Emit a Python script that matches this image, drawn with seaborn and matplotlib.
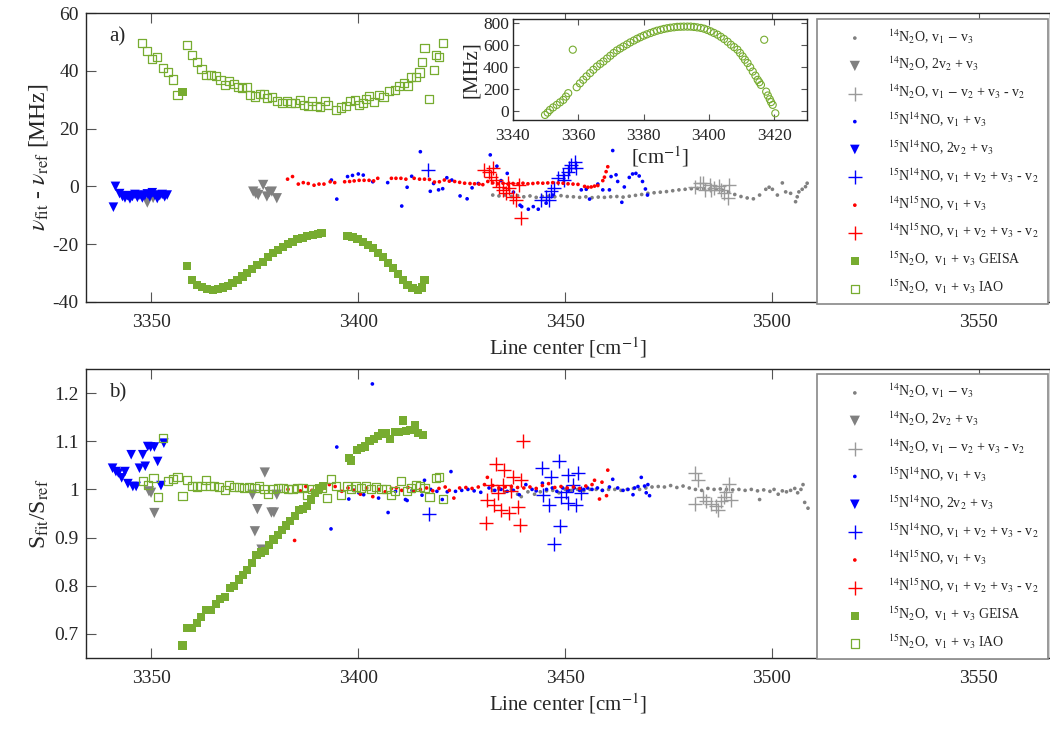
import numpy as np
import matplotlib
matplotlib.use("Agg")
import matplotlib.pyplot as plt
from matplotlib.ticker import FormatStrFormatter
import seaborn as sns

# ---------------- data (x = line center [cm-1], y = value) ----------------
# panel a) : nu_fit - nu_ref [MHz]
a_14n2o_dot = np.array([
    (3432.5, -3.0), (3434.0, -3.3), (3435.5, -3.0), (3437.0, -3.5), (3438.5, -3.2), (3440.0, -3.6),
    (3441.5, -3.3), (3443.0, -3.8), (3444.5, -3.5), (3446.0, -3.4), (3447.5, -3.6), (3449.0, -3.2),
    (3450.5, -3.5), (3452.0, -3.6), (3453.5, -3.8), (3455.0, -3.6), (3456.5, -3.9), (3458.0, -3.7),
    (3459.5, -3.8), (3461.0, -3.6), (3462.5, -3.5), (3464.0, -3.7), (3465.5, -3.4), (3467.0, -3.1),
    (3468.5, -2.8), (3470.0, -2.4), (3471.5, -2.2), (3473.0, -2.0), (3474.5, -1.8), (3476.0, -1.5),
    (3477.5, -1.2), (3479.0, -1.0), (3480.5, -0.8), (3482.0, -0.7), (3483.5, -0.8), (3485.0, -0.9),
    (3486.5, -1.0), (3488.0, -1.3), (3489.5, -2.0), (3491.0, -2.8), (3492.5, -3.5), (3494.0, -4.0),
    (3495.5, -4.3), (3497.0, -3.0), (3498.5, -1.0), (3499.3, -0.3), (3500.1, -1.0), (3501.3, -3.0),
    (3502.5, 1.2), (3503.3, -1.9), (3504.5, -2.4), (3505.7, -5.3), (3506.1, -3.6), (3506.5, -1.9),
    (3507.3, -1.0), (3508.1, -0.1), (3508.5, 1.1)])
a_14n2o_tri = np.array([
    (3349.0, -5.6), (3350.4, -4.0), (3374.6, -1.8), (3375.2, -2.5), (3375.8, -3.0), (3377.0, 0.5),
    (3377.9, -3.5), (3378.5, -2.0), (3379.1, -1.8), (3380.3, -4.1)])
a_14n2o_plus = np.array([
    (3481.3, -0.3), (3482.5, 1.1), (3483.3, 1.1), (3483.7, -1.2), (3484.9, 0.6), (3485.3, -1.4),
    (3486.1, -0.6), (3487.3, 0.0), (3487.7, -1.2), (3488.5, -2.4), (3489.3, -4.1), (3489.7, 0.6)])
a_15n14no_dot = np.array([
    (3393.5, 2.2), (3394.8, -4.4), (3397.4, 3.4), (3398.6, 3.8), (3400.0, 4.3), (3401.2, 3.9),
    (3403.5, 1.6), (3407.1, 1.3), (3410.5, -6.8), (3411.8, -0.3), (3412.9, 3.5), (3415.0, 12.0),
    (3417.4, -1.7), (3418.2, 1.0), (3419.4, -1.2), (3420.4, -0.8), (3421.4, 3.0), (3422.6, 2.2),
    (3424.6, -3.3), (3426.3, -4.3), (3427.5, -0.5), (3429.0, 1.0), (3431.9, 10.9), (3433.5, 7.0),
    (3434.5, 2.0), (3436.0, 4.5), (3437.5, -2.0), (3439.1, -6.5), (3439.5, -7.0), (3441.1, -7.9),
    (3442.3, -7.0), (3443.5, -7.9), (3445.4, -5.8), (3447.0, -3.0), (3453.9, -1.2), (3455.1, -1.0),
    (3455.9, -4.4), (3457.9, 0.8), (3459.1, -1.2), (3460.7, -1.2), (3461.1, 3.4), (3461.5, 12.4),
    (3462.3, 4.0), (3462.7, 1.7), (3463.7, -5.5), (3464.3, -0.2), (3465.5, 3.1), (3466.3, 4.3),
    (3467.1, 4.5), (3467.9, 3.6), (3468.7, 1.7), (3469.4, -0.9), (3469.9, -3.0)])
a_15n14no_tri = np.array([
    (3340.8, -7.2), (3341.3, 0.0), (3342.3, -2.5), (3343.0, -3.5), (3343.6, -4.0), (3344.2, -3.2),
    (3344.8, -4.3), (3345.4, -3.5), (3346.0, -2.8), (3346.6, -3.8), (3347.2, -3.0), (3347.8, -4.0),
    (3348.4, -3.2), (3349.0, -2.6), (3349.6, -3.6), (3350.2, -2.2), (3350.8, -3.0), (3351.4, -4.2),
    (3352.0, -3.2), (3352.6, -2.8), (3353.2, -3.6), (3353.8, -3.0)])
a_15n14no_plus = np.array([
    (3416.8, 5.7), (3444.2, -4.6), (3445.4, -3.5), (3446.2, -4.6), (3446.6, -1.7), (3447.4, -0.6),
    (3448.2, 2.8), (3449.4, 4.0), (3449.8, 2.3), (3450.7, 5.1), (3451.0, 6.5), (3451.5, 7.4),
    (3452.3, 8.5), (3452.7, 6.2)])
a_14n15no_dot = np.array([
    (3382.9, 2.5), (3384.1, 3.4), (3385.5, 0.8), (3386.7, 1.3), (3387.9, 1.0), (3389.3, 0.4),
    (3390.5, 0.8), (3391.7, 0.8), (3393.2, 1.6), (3394.3, 1.3), (3396.7, 1.6), (3397.9, 1.7),
    (3399.0, 1.9), (3400.2, 2.1), (3401.4, 2.1), (3402.6, 2.1), (3403.7, 1.9), (3404.7, 2.8),
    (3408.0, 2.8), (3409.1, 2.8), (3410.3, 2.8), (3411.5, 2.5), (3413.5, 2.8), (3414.8, 2.5),
    (3416.0, 2.5), (3417.2, 2.4), (3418.4, 1.5), (3419.6, 1.6), (3420.8, 2.2), (3422.0, 1.8),
    (3423.3, 1.7), (3424.5, 1.4), (3425.7, 1.1), (3427.0, 1.0), (3428.1, 0.9), (3429.2, 0.8),
    (3430.1, 0.6), (3431.3, 1.7), (3432.5, 1.2), (3433.7, 0.9), (3435.0, 1.1), (3436.2, 0.8),
    (3437.4, 1.0), (3438.6, 0.9), (3439.8, 1.1), (3441.0, 0.9), (3442.2, 1.0), (3443.4, 1.2),
    (3444.6, 1.1), (3445.8, 1.2), (3447.0, 1.3), (3448.3, 1.2), (3449.5, 1.1), (3450.7, 0.9),
    (3451.9, 0.8), (3453.1, 0.7), (3454.7, 0.0), (3455.5, -0.3), (3456.3, -0.2), (3457.1, 0.1),
    (3457.9, 0.3), (3459.1, 2.0), (3459.5, 3.2), (3459.9, 5.1), (3460.3, 6.8)])
a_14n15no_plus = np.array([
    (3430.5, 5.7), (3431.7, 5.1), (3432.1, 3.4), (3432.5, 6.2), (3433.3, 2.3), (3434.1, -0.1),
    (3434.9, -1.2), (3435.7, -2.3), (3436.1, 1.2), (3436.5, -0.6), (3437.3, -3.5), (3438.1, -4.6),
    (3438.9, 0.6), (3439.3, -11.0)])
a_15n2o_geisa = np.array([
    (3357.5, 32.7), (3358.7, -27.5), (3359.9, -32.4), (3361.1, -34.1), (3362.3, -34.9), (3363.5, -35.6),
    (3364.8, -35.8), (3366.0, -35.6), (3367.2, -35.0), (3368.4, -34.5), (3369.6, -33.5), (3370.8, -32.4),
    (3372.0, -31.2), (3373.2, -29.9), (3374.4, -28.5), (3375.6, -27.2), (3376.9, -26.1), (3378.1, -24.5),
    (3379.3, -23.2), (3380.5, -22.0), (3381.7, -20.9), (3382.9, -19.9), (3384.1, -19.1), (3385.3, -18.3),
    (3386.5, -17.8), (3387.7, -17.2), (3389.0, -16.8), (3390.2, -16.5), (3391.1, -16.2),
    (3397.4, -17.2), (3398.6, -17.6), (3399.8, -18.3), (3401.1, -19.2), (3402.3, -20.3), (3403.5, -21.4),
    (3404.7, -22.9), (3405.9, -24.5), (3407.1, -26.4), (3408.3, -28.3), (3409.5, -30.3), (3410.7, -32.4),
    (3411.9, -34.1), (3413.1, -35.3), (3414.4, -35.8), (3415.3, -35.0), (3416.0, -32.4)])
a_15n2o_iao = np.array([
    (3347.8, 49.7), (3349.0, 46.9), (3350.2, 44.0), (3351.4, 44.7), (3352.8, 40.9), (3353.9, 39.7),
    (3355.1, 37.0), (3356.3, 31.6),
    (3358.7, 48.9), (3359.9, 45.4), (3361.1, 43.1), (3362.1, 40.5), (3363.1, 38.5), (3364.3, 38.5),
    (3365.5, 38.2), (3366.7, 36.8), (3367.7, 35.1), (3368.7, 36.5), (3369.9, 35.4), (3370.9, 34.3),
    (3371.9, 33.9), (3373.1, 34.3), (3373.9, 31.6), (3375.1, 31.1), (3376.2, 31.9), (3377.1, 32.0),
    (3377.9, 30.5), (3379.1, 30.8), (3380.3, 29.4), (3381.5, 28.8), (3382.7, 29.7), (3383.7, 28.8),
    (3384.7, 29.0), (3385.9, 30.0), (3386.9, 28.2), (3387.9, 27.9), (3388.9, 29.6), (3389.9, 27.9),
    (3390.7, 27.6), (3391.9, 29.4), (3392.7, 28.2), (3394.7, 26.4), (3395.9, 27.3), (3397.1, 27.9),
    (3397.9, 29.4), (3399.1, 30.0), (3400.1, 28.2), (3401.1, 28.8), (3401.8, 30.1), (3402.6, 31.3),
    (3403.7, 29.3), (3405.1, 31.6), (3406.1, 31.0), (3407.4, 33.0), (3408.8, 33.4), (3409.8, 34.8),
    (3411.0, 35.7), (3412.0, 34.6), (3412.7, 38.0), (3413.9, 38.0), (3414.8, 39.4), (3415.5, 43.2),
    (3416.0, 48.0), (3417.1, 30.2), (3418.2, 40.3), (3418.8, 45.5), (3419.6, 44.9), (3420.4, 49.7)])

# panel b) : S_fit / S_ref
b_14n2o_dot = np.array([
    (3432.5, 0.998), (3434.0, 1.0), (3435.5, 0.995), (3437.0, 1.0), (3438.5, 0.99), (3439.4, 0.985),
    (3441.0, 0.995), (3442.6, 0.99), (3444.0, 0.995), (3445.5, 0.997), (3447.0, 0.998), (3448.5, 0.993),
    (3450.0, 1.0), (3451.5, 0.998), (3453.0, 1.0), (3454.5, 0.997), (3456.0, 1.0), (3457.5, 1.0),
    (3459.0, 0.998), (3460.5, 1.0), (3462.0, 1.0), (3463.5, 0.998), (3465.0, 1.0), (3466.5, 1.002),
    (3468.0, 1.0), (3469.5, 1.003), (3471.0, 1.005), (3472.5, 1.006), (3474.0, 1.005), (3475.5, 1.008),
    (3477.0, 1.004), (3478.5, 1.007), (3480.0, 1.003), (3481.5, 1.0), (3483.0, 0.998), (3484.5, 1.002),
    (3486.0, 1.0), (3487.5, 1.001), (3489.0, 1.0), (3490.5, 0.999), (3492.0, 1.0), (3493.5, 0.998),
    (3495.0, 1.0), (3496.5, 0.997), (3497.0, 0.979), (3498.0, 0.999), (3499.5, 0.996), (3500.5, 1.0),
    (3501.5, 0.99), (3502.5, 0.997), (3503.5, 0.995), (3504.5, 0.998), (3505.5, 1.002), (3506.2, 0.993),
    (3507.0, 1.0), (3507.5, 1.01), (3507.9, 0.973), (3508.7, 0.961)])
b_14n2o_tri = np.array([
    (3349.4, 0.996), (3349.9, 0.993), (3350.7, 0.951), (3374.4, 0.989), (3375.0, 0.913), (3375.6, 0.959),
    (3376.6, 0.875), (3377.4, 1.035), (3379.0, 0.952), (3379.6, 0.952), (3380.3, 0.989)])
b_14n2o_plus = np.array([
    (3481.3, 1.035), (3481.3, 0.970), (3482.1, 1.020), (3483.3, 0.984), (3484.1, 0.975), (3485.3, 0.970),
    (3486.5, 0.965), (3486.9, 0.957), (3487.7, 0.975), (3488.5, 0.984), (3489.0, 0.994), (3489.7, 1.012),
    (3490.1, 0.978)])
b_15n14no_dot = np.array([
    (3393.4, 0.918), (3394.8, 1.088), (3397.7, 0.980), (3398.9, 0.998), (3400.1, 0.993), (3401.3, 0.989),
    (3403.4, 1.219), (3404.9, 0.982), (3407.2, 0.952), (3409.0, 0.996), (3411.4, 0.979), (3411.8, 0.977),
    (3413.0, 0.998), (3415.4, 0.988), (3416.0, 1.019), (3417.5, 1.0), (3419.0, 0.996), (3420.3, 0.979),
    (3421.5, 0.995), (3422.4, 1.037), (3423.5, 0.996), (3425.0, 0.998), (3426.5, 1.0), (3428.0, 0.997),
    (3429.6, 0.994), (3431.6, 1.003), (3433.0, 0.998), (3434.5, 1.0), (3436.0, 0.996), (3437.5, 0.998),
    (3438.9, 0.989), (3440.5, 1.010), (3442.0, 1.0), (3443.0, 0.997), (3444.5, 1.013), (3445.5, 1.0),
    (3446.9, 1.003), (3448.0, 0.996), (3449.4, 1.003), (3450.8, 0.998), (3452.2, 1.003), (3453.5, 0.998),
    (3454.5, 1.0), (3455.4, 1.003), (3456.5, 1.0), (3457.8, 1.003), (3459.0, 0.998), (3460.7, 1.005),
    (3461.5, 1.021), (3462.7, 1.003), (3464.0, 0.998), (3465.2, 1.0), (3466.4, 0.989), (3466.8, 1.003),
    (3467.6, 1.006), (3468.4, 1.025), (3469.2, 1.007), (3469.6, 0.993), (3470.0, 1.010), (3470.4, 0.987)])
b_15n14no_tri = np.array([
    (3340.6, 1.044), (3341.4, 1.037), (3342.0, 1.034), (3342.8, 1.024), (3343.6, 1.037), (3344.3, 1.012),
    (3345.1, 1.072), (3345.5, 1.006), (3346.3, 1.006), (3347.1, 1.044), (3347.9, 1.072), (3348.5, 1.048),
    (3349.1, 1.089), (3349.8, 1.088), (3350.7, 1.088), (3351.5, 1.058), (3352.3, 1.008), (3353.0, 1.096)])
b_15n14no_plus = np.array([
    (3417.2, 0.949), (3444.5, 1.044), (3444.7, 0.989), (3446.1, 0.968), (3446.7, 1.025), (3447.2, 0.887),
    (3448.5, 1.058), (3448.7, 0.925), (3448.9, 0.985), (3450.2, 0.994), (3450.6, 1.030), (3450.6, 0.971),
    (3451.8, 1.010), (3452.6, 0.968), (3453.0, 1.035), (3453.8, 0.993)])
b_14n15no_dot = np.array([
    (3383.0, 1.0), (3384.6, 0.894), (3386.0, 0.997), (3387.3, 1.006), (3388.8, 0.998), (3390.2, 1.004),
    (3391.5, 1.002), (3393.0, 1.01), (3394.4, 1.006), (3396.0, 0.996), (3397.5, 1.003), (3399.0, 0.998),
    (3400.5, 0.99), (3402.0, 1.003), (3403.5, 0.985), (3405.0, 1.0), (3406.5, 0.995), (3408.0, 1.002),
    (3409.2, 1.003), (3410.5, 0.998), (3412.0, 1.004), (3413.5, 0.996), (3415.0, 1.0), (3416.5, 1.003),
    (3418.0, 0.997), (3419.5, 1.002), (3421.0, 1.005), (3422.0, 0.998), (3423.1, 0.982), (3424.5, 1.003),
    (3426.0, 1.004), (3427.5, 1.002), (3429.0, 1.005), (3430.5, 1.01), (3431.2, 1.025), (3432.5, 1.008),
    (3434.0, 1.003), (3435.5, 1.005), (3437.0, 1.006), (3438.5, 1.004), (3440.0, 1.003), (3441.5, 1.005),
    (3443.0, 1.002), (3444.5, 1.008), (3446.0, 1.012), (3447.5, 1.004), (3449.0, 1.006), (3450.5, 1.003),
    (3452.0, 1.005), (3453.5, 1.002), (3455.0, 1.007), (3456.5, 1.01), (3457.1, 1.019), (3458.3, 0.98),
    (3458.9, 1.015), (3460.0, 0.987), (3460.3, 1.04)])
b_14n15no_plus = np.array([
    (3430.8, 0.930), (3431.2, 0.979), (3432.1, 1.010), (3432.9, 0.968), (3433.3, 1.053), (3433.7, 0.993),
    (3434.5, 0.957), (3434.9, 1.010), (3435.3, 1.040), (3436.5, 0.952), (3437.0, 0.996), (3437.4, 1.025),
    (3438.5, 0.963), (3439.2, 0.926), (3439.4, 1.019), (3439.8, 1.101)])
b_15n2o_geisa = np.array([
    (3357.5, 0.676), (3358.7, 0.712), (3359.7, 0.712), (3360.9, 0.723), (3362.0, 0.735), (3363.2, 0.750),
    (3364.3, 0.750), (3365.5, 0.763), (3366.6, 0.773), (3367.7, 0.777), (3368.9, 0.795), (3370.0, 0.800),
    (3371.1, 0.813), (3372.2, 0.823), (3373.2, 0.833), (3374.4, 0.847), (3375.4, 0.863), (3376.5, 0.869),
    (3377.5, 0.872), (3378.5, 0.885), (3379.5, 0.896), (3380.6, 0.906), (3381.5, 0.916), (3382.5, 0.925),
    (3383.5, 0.934), (3384.6, 0.945), (3385.6, 0.958), (3386.6, 0.959), (3387.6, 0.965), (3388.6, 0.979),
    (3389.6, 0.993), (3390.6, 1.003), (3391.4, 1.008),
    (3397.7, 1.065), (3398.3, 1.060), (3399.7, 1.082), (3400.7, 1.086), (3401.7, 1.089), (3402.7, 1.100),
    (3403.7, 1.105), (3404.8, 1.111), (3405.7, 1.116), (3406.7, 1.116), (3407.7, 1.105), (3408.9, 1.120),
    (3409.9, 1.120), (3410.9, 1.143), (3411.5, 1.122), (3412.5, 1.124), (3413.6, 1.134), (3414.5, 1.118),
    (3415.6, 1.113)])
b_15n2o_iao = np.array([
    (3347.9, 1.017), (3349.1, 1.010), (3350.5, 1.024), (3351.6, 0.984), (3352.8, 1.107), (3353.9, 1.017),
    (3355.1, 1.022), (3356.3, 1.026), (3357.5, 0.986), (3358.7, 1.019), (3359.9, 1.008), (3361.1, 1.006),
    (3362.1, 1.008), (3363.1, 1.019), (3364.2, 1.008), (3365.2, 1.008), (3366.4, 1.005), (3367.7, 0.998),
    (3368.8, 1.010), (3370.0, 1.005), (3371.2, 1.005), (3372.4, 1.003), (3373.6, 1.005), (3374.9, 1.003),
    (3376.1, 1.008), (3377.3, 1.001), (3378.1, 0.991), (3379.3, 1.001), (3380.5, 1.003), (3381.7, 1.003),
    (3382.9, 1.001), (3384.1, 1.001), (3385.3, 1.003), (3386.5, 1.003), (3387.7, 0.989), (3388.9, 1.000),
    (3390.1, 1.000), (3391.3, 1.003), (3392.5, 0.982), (3393.4, 1.022), (3394.6, 1.008), (3395.8, 0.988),
    (3397.3, 1.008), (3398.3, 1.000), (3399.5, 1.006), (3400.7, 1.003), (3401.9, 1.008), (3403.1, 1.000),
    (3404.3, 1.005), (3405.6, 1.000), (3406.8, 1.001), (3407.8, 0.988), (3408.8, 0.996), (3410.3, 1.017),
    (3411.8, 0.996), (3412.8, 1.003), (3413.9, 1.010), (3415.0, 1.006), (3416.0, 1.003), (3417.2, 0.985),
    (3418.8, 1.024), (3419.6, 1.026), (3420.4, 0.981)])

# inset : [MHz] vs [cm-1]
inset_iao = np.array([
    (3349.8, -36), (3350.6, -15), (3351.3, 9), (3352.3, 32), (3353.4, 55), (3354.4, 78), (3355.4, 100),
    (3356.2, 130), (3356.9, 161), (3358.3, 555), (3359.5, 215), (3360.5, 250), (3361.5, 282),
    (3362.5, 313), (3363.6, 343), (3364.6, 373), (3365.7, 403), (3366.7, 426), (3367.7, 448),
    (3368.8, 475), (3369.8, 500), (3370.8, 525), (3371.8, 548), (3372.8, 566), (3373.8, 584),
    (3374.9, 603), (3375.9, 621), (3377.0, 638), (3378.0, 654), (3379.0, 668), (3380.0, 682),
    (3381.0, 694), (3382.1, 706), (3383.1, 717), (3384.1, 727), (3385.2, 735), (3386.2, 743),
    (3387.2, 749), (3388.2, 754), (3389.3, 758), (3390.3, 762), (3391.3, 763), (3392.3, 764),
    (3393.4, 764), (3394.4, 764), (3395.4, 761), (3396.4, 757), (3397.5, 752), (3398.5, 745),
    (3399.5, 734), (3400.5, 721), (3401.5, 707), (3402.6, 691), (3403.6, 672), (3404.6, 652),
    (3405.7, 627), (3406.7, 600), (3407.7, 578), (3408.7, 555), (3409.5, 525), (3410.3, 494),
    (3411.0, 464), (3411.8, 434), (3412.6, 396), (3413.4, 357), (3414.2, 320), (3414.9, 282),
    (3415.4, 260), (3415.9, 236), (3416.9, 645), (3417.5, 175), (3418.0, 140), (3418.6, 106),
    (3419.0, 80), (3419.5, 55), (3420.3, -21)])

labels = [
    r"$^{14}$N$_2$O, v$_1$ $-$ v$_3$",
    r"$^{14}$N$_2$O, 2v$_2$ + v$_3$",
    r"$^{14}$N$_2$O, v$_1$ $-$ v$_2$ + v$_3$ - v$_2$",
    r"$^{15}$N$^{14}$NO, v$_1$ + v$_3$",
    r"$^{15}$N$^{14}$NO, 2v$_2$ + v$_3$",
    r"$^{15}$N$^{14}$NO, v$_1$ + v$_2$ + v$_3$ - v$_2$",
    r"$^{14}$N$^{15}$NO, v$_1$ + v$_3$",
    r"$^{14}$N$^{15}$NO, v$_1$ + v$_2$ + v$_3$ - v$_2$",
    r"$^{15}$N$_2$O,  v$_1$ + v$_3$ GEISA",
    r"$^{15}$N$_2$O,  v$_1$ + v$_3$ IAO",
]
x_ticks = [3350, 3400, 3450, 3500, 3550]
a_yticks = [-40, -20, 0, 20, 40, 60]
b_yticks = [0.7, 0.8, 0.9, 1.0, 1.1, 1.2]
inset_xticks = [3340, 3360, 3380, 3400, 3420]
inset_yticks = [0, 200, 400, 600, 800]

# ---------------- styles ----------------
GRAY = "#808080"
LGRAY = "#9a9a9a"
BLUE = "#0000ff"
RED = "#ff0000"
GREEN = "#77ac30"
styles = [
    dict(marker="o", s=7, color=GRAY, edgecolor="none"),
    dict(marker="v", s=55, color=GRAY, edgecolor="none"),
    dict(marker="+", s=90, color=LGRAY, linewidth=1.0),
    dict(marker="o", s=7, color=BLUE, edgecolor="none"),
    dict(marker="v", s=48, color=BLUE, edgecolor="none"),
    dict(marker="+", s=90, color=BLUE, linewidth=1.0),
    dict(marker="o", s=7, color=RED, edgecolor="none"),
    dict(marker="+", s=90, color=RED, linewidth=1.0),
    dict(marker="s", s=34, color=GREEN, edgecolor="none"),
    dict(marker="s", s=34, color=GREEN, facecolor="none", edgecolor=GREEN, linewidth=0.9),
]

sns.set_theme(style="ticks")
plt.rcParams["font.family"] = ["Liberation Serif", "DejaVu Serif"]
plt.rcParams["mathtext.fontset"] = "stix"
plt.rcParams["axes.unicode_minus"] = False

fig = plt.figure(figsize=(10.5, 7.31), dpi=100)
axA = fig.add_axes([0.0816, 0.5869, 0.9184, 0.3953])
axB = fig.add_axes([0.0816, 0.0999, 0.9184, 0.3953])

setsA = [a_14n2o_dot, a_14n2o_tri, a_14n2o_plus, a_15n14no_dot, a_15n14no_tri, a_15n14no_plus,
         a_14n15no_dot, a_14n15no_plus, a_15n2o_geisa, a_15n2o_iao]
setsB = [b_14n2o_dot, b_14n2o_tri, b_14n2o_plus, b_15n14no_dot, b_15n14no_tri, b_15n14no_plus,
         b_14n15no_dot, b_14n15no_plus, b_15n2o_geisa, b_15n2o_iao]

for ax, sets in ((axA, setsA), (axB, setsB)):
    for arr, st, lab in zip(sets, styles, labels):
        sns.scatterplot(x=arr[:, 0], y=arr[:, 1], ax=ax, label=lab, legend=False, **st)

for ax in (axA, axB):
    ax.set_xlim(3334.1, 3567.2)
    ax.set_xticks(x_ticks)
    ax.tick_params(axis="both", direction="in", length=7, width=0.8, color="#555555",
                   labelsize=14, top=True, right=False)
    ax.tick_params(axis="x", pad=9)
    ax.tick_params(axis="y", pad=5)
    for sp in ax.spines.values():
        sp.set_color("#262626")
        sp.set_linewidth(1.0)
    ax.set_xlabel(r"Line center [cm$^{-1}$]", fontsize=15, labelpad=3)

axA.set_ylim(-40, 60)
axA.set_yticks(a_yticks)
axA.set_ylabel(r"$\nu_{\rm fit}$ - $\nu_{\rm ref}$ [MHz]", fontsize=17, labelpad=2)
axB.set_ylim(0.65, 1.25)
axB.set_yticks(b_yticks)
axB.yaxis.set_major_formatter(FormatStrFormatter("%g"))
axB.set_ylabel(r"S$_{\rm fit}$/S$_{\rm ref}$", fontsize=17, labelpad=2)

axA.text(0.024, 0.90, "a)", transform=axA.transAxes, fontsize=15)
axB.text(0.024, 0.90, "b)", transform=axB.transAxes, fontsize=15)

for ax, top, bot in ((axA, 0.979, 0.021), (axB, 0.983, 0.028)):
    handles, labs = ax.get_legend_handles_labels()
    leg = ax.legend(handles, labs, loc="upper left", bbox_to_anchor=(0.758, bot, 0.24, top - bot),
                    mode="expand", borderaxespad=0, fontsize=10, labelspacing=0.7,
                    handlelength=4.3, handletextpad=0.25, borderpad=0.6, scatterpoints=1,
                    frameon=True, fancybox=False, framealpha=1, edgecolor="#888888")
    leg.get_frame().set_linewidth(1.2)

# inset
axI = fig.add_axes([513 / 1050, 1 - 120 / 731, 294 / 1050, 101 / 731])
sns.scatterplot(x=inset_iao[:, 0], y=inset_iao[:, 1], ax=axI, marker="o", s=26,
                color=GREEN, facecolor="none", edgecolor=GREEN, linewidth=0.8, legend=False)
axI.set_xlim(3340, 3430)
axI.set_ylim(-82, 833)
axI.set_xticks(inset_xticks)
axI.set_yticks(inset_yticks)
axI.tick_params(axis="both", direction="in", length=4, width=0.8, color="#555555",
                labelsize=12.5, top=True, right=True)
axI.tick_params(axis="x", pad=6)
axI.tick_params(axis="y", pad=3)
for sp in axI.spines.values():
    sp.set_color("#262626")
    sp.set_linewidth(1.0)
axI.set_xlabel(r"[cm$^{-1}$]", fontsize=15, labelpad=0)
axI.set_ylabel("[MHz]", fontsize=15, labelpad=1)

fig.savefig("out.png", dpi=100)
